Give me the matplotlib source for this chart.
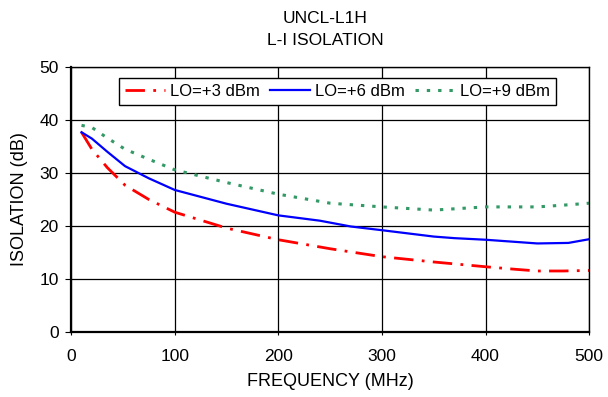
import numpy as np
import matplotlib.pyplot as plt

plt.rcParams['font.family'] = ['Liberation Sans', 'DejaVu Sans']

freq_lo3 = [10, 20, 35, 52, 75, 100, 150, 200, 250, 300, 350, 400, 430, 450, 475, 500]
iso_lo3 = [37.7, 34.5, 31.0, 27.7, 25.0, 22.6, 19.6, 17.4, 15.7, 14.2, 13.2, 12.3, 11.8, 11.5, 11.5, 11.6]

freq_lo6 = [10, 20, 35, 52, 75, 100, 150, 200, 240, 270, 300, 350, 370, 400, 450, 480, 500]
iso_lo6 = [37.7, 36.5, 34.0, 31.3, 29.0, 26.8, 24.2, 22.0, 21.0, 19.9, 19.2, 18.0, 17.7, 17.4, 16.7, 16.8, 17.5]

freq_lo9 = [10, 20, 35, 52, 75, 100, 150, 200, 250, 300, 350, 400, 450, 480, 500]
iso_lo9 = [39.0, 38.6, 36.6, 34.5, 32.6, 30.6, 28.2, 26.0, 24.3, 23.6, 23.0, 23.6, 23.6, 24.0, 24.3]

fig = plt.figure(figsize=(6.08, 3.97), dpi=100)
ax = fig.add_axes([0.117, 0.164, 0.852, 0.667])

ax.plot(freq_lo3, iso_lo3, color='#ff0000', lw=2, dashes=(7, 3, 1, 3), label='LO=+3 dBm')
ax.plot(freq_lo6, iso_lo6, color='#0000ff', lw=1.6, label='LO=+6 dBm')
ax.plot(freq_lo9, iso_lo9, color='#339966', lw=2.2, dashes=(1.1, 2.6), label='LO=+9 dBm')

ax.set_xlim(0, 500)
ax.set_ylim(0, 50)
ax.set_xticks(np.arange(0, 501, 100))
ax.set_yticks(np.arange(0, 51, 10))
ax.grid(True, color='black', lw=0.9)
ax.set_axisbelow(True)
for s in ax.spines.values():
    s.set_color('black')
    s.set_linewidth(1.0)
ax.spines['left'].set_linewidth(1.6)
ax.spines['bottom'].set_linewidth(1.6)
ax.tick_params(labelsize=12.5, direction='out', color='black')
ax.tick_params(axis='x', length=2.5, pad=10)
ax.tick_params(axis='y', length=4, pad=5)

ax.set_xlabel('FREQUENCY (MHz)', fontsize=13, labelpad=6)
ax.set_ylabel('ISOLATION (dB)', fontsize=13, labelpad=8)
fig.text(0.535, 0.972, 'UNCL-L1H\nL-I ISOLATION', ha='center', va='top',
         fontsize=12.5, linespacing=1.6)

leg = ax.legend(loc='upper center', bbox_to_anchor=(0.514, 0.96), ncol=3,
                fontsize=12, frameon=True, fancybox=False, framealpha=1,
                edgecolor='black', borderpad=0.38, handlelength=2.4,
                handletextpad=0.3, columnspacing=0.6, borderaxespad=0)
leg.get_frame().set_linewidth(1.0)

fig.savefig('out.png', dpi=100)
